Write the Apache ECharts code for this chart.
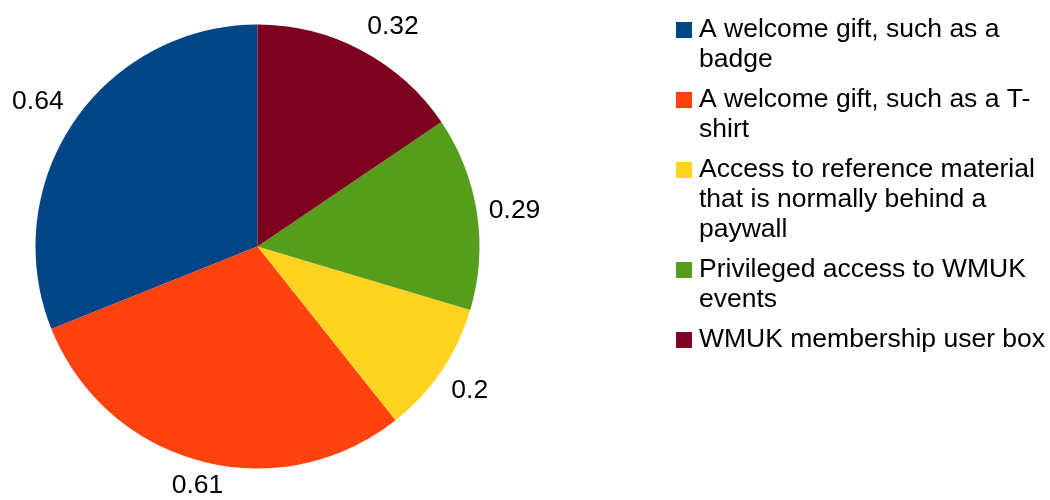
<!DOCTYPE html>
<html>
<head>
<meta charset="utf-8">
<title>Pie chart</title>
<script src="https://cdn.jsdelivr.net/npm/echarts@6/dist/echarts.min.js"></script>
<style>
  html, body { margin: 0; padding: 0; background: #ffffff; }
  #chart { width: 1050px; height: 500px; }
</style>
</head>
<body>
<div id="chart"></div>
<script>
// Category names (as used by the series and legend)
const categories = [
  'A welcome gift, such as a badge',
  'A welcome gift, such as a T-shirt',
  'Access to reference material that is normally behind a paywall',
  'Privileged access to WMUK events',
  'WMUK membership user box'
];
// Legend text, wrapped line by line
const legendLines = [
  ['A welcome gift, such as a', 'badge'],
  ['A welcome gift, such as a T-', 'shirt'],
  ['Access to reference material', 'that is normally behind a', 'paywall'],
  ['Privileged access to WMUK', 'events'],
  ['WMUK membership user box']
];
// Slice values
const values = [0.64, 0.61, 0.2, 0.29, 0.32];
// Slice colours
const colors = ['#004586', '#ff420e', '#ffd320', '#579d1c', '#7e0021'];

const FONT = '"Liberation Sans", Arial, sans-serif';
const FONT_SIZE = 26.5;
const CENTER = [257.5, 246.5];
const RADIUS = 222;
const START_ANGLE = 90;
const LABEL_GAP = 12;
const ALIGN_LIMIT = Math.cos(67.5 * Math.PI / 180);

const chart = echarts.init(document.getElementById('chart'), null, { renderer: 'canvas' });

// Mid-angle of each slice (degrees, counter-clockwise from +x)
const total = values.reduce((a, b) => a + b, 0);
const midAngles = [];
let acc = 0;
values.forEach(v => {
  midAngles.push(START_ANGLE + (acc + v / 2) / total * 360);
  acc += v;
});

// Rich text styles for the legend: coloured square + indent for continuation lines
const rich = {
  t: { fontSize: FONT_SIZE, fontFamily: FONT, color: '#000', lineHeight: 30 },
  gap: { width: 7, height: 16 },
  ind: { width: 23, height: 16 }
};
colors.forEach((c, i) => {
  rich['sq' + i] = { width: 16, height: 16, backgroundColor: c };
});

const option = {
  backgroundColor: '#ffffff',
  color: colors,
  animation: false,
  legend: {
    orient: 'vertical',
    left: 671,
    top: 15,
    padding: 0,
    itemGap: 10,
    itemWidth: 0,
    itemHeight: 0,
    icon: 'none',
    selectedMode: false,
    data: categories,
    formatter: function (name) {
      const i = categories.indexOf(name);
      return legendLines[i].map((line, k) =>
        (k === 0 ? '{sq' + i + '|}{gap|}' : '{ind|}') + '{t|' + line + '}'
      ).join('\n');
    },
    textStyle: { fontSize: FONT_SIZE, fontFamily: FONT, color: '#000', lineHeight: 30, rich: rich }
  },
  series: [{
    type: 'pie',
    center: CENTER,
    radius: RADIUS,
    startAngle: START_ANGLE,
    clockwise: false,
    avoidLabelOverlap: false,
    itemStyle: { borderWidth: 0 },
    emphasis: { disabled: true },
    label: {
      show: true,
      position: 'outside',
      formatter: p => String(p.value),
      fontSize: FONT_SIZE,
      fontFamily: FONT,
      color: '#000'
    },
    labelLine: { show: false },
    // Anchor each value just outside the rim on the slice's mid-angle,
    // attaching the text box by the corner/side that faces the pie.
    labelLayout: function (p) {
      const a = midAngles[p.dataIndex] * Math.PI / 180;
      const ux = Math.cos(a), uy = -Math.sin(a);
      const R = RADIUS + LABEL_GAP;
      const align = ux > ALIGN_LIMIT ? 'left' : (ux < -ALIGN_LIMIT ? 'right' : 'center');
      const vAlign = uy > ALIGN_LIMIT ? 'top' : (uy < -ALIGN_LIMIT ? 'bottom' : 'middle');
      return {
        x: CENTER[0] + ux * R,
        y: CENTER[1] + uy * R,
        align: align,
        verticalAlign: vAlign
      };
    },
    data: categories.map((name, i) => ({ name: name, value: values[i] }))
  }]
};

chart.setOption(option);
</script>
</body>
</html>
